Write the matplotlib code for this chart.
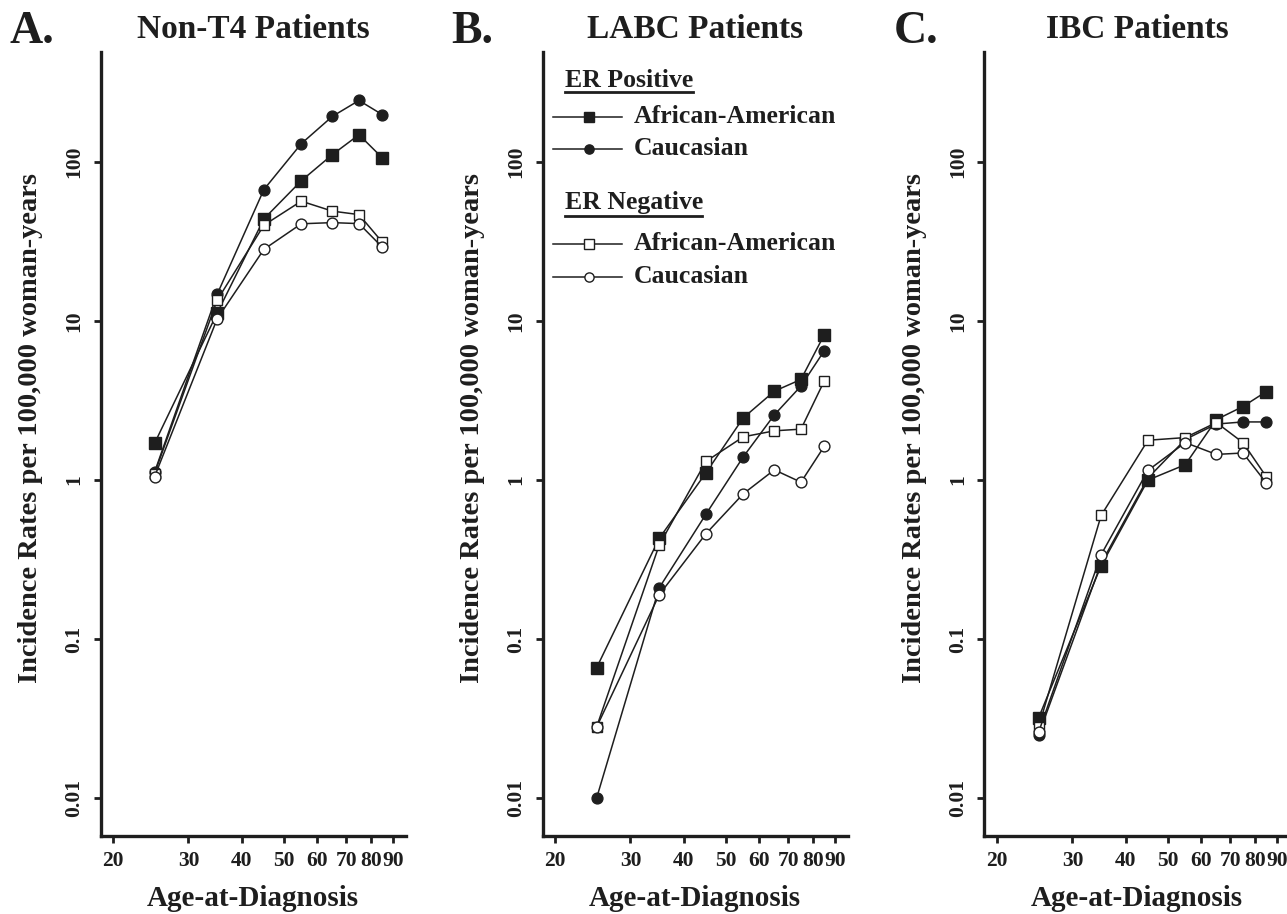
"""
Incidence rates by age-at-diagnosis, ER status and race (Non-T4 / LABC / IBC).
"""

import matplotlib
matplotlib.use("Agg")
import matplotlib.pyplot as plt
from matplotlib.lines import Line2D
from matplotlib.ticker import FixedLocator, FixedFormatter, NullLocator

plt.rcParams['font.family'] = ['Liberation Serif', 'DejaVu Serif']
plt.rcParams['font.weight'] = 'bold'

INK = '#1e1e1e'

# ---- data -------------------------------------------------------------
ages = [25, 35, 45, 55, 65, 75, 85]

nont4_aa_pos = [1.7, 11.2, 43.8, 76, 111, 148, 106]
nont4_ca_pos = [1.12, 14.7, 67, 130, 193, 243, 198]
nont4_aa_neg = [1.1, 13.5, 40, 56.6, 49, 46.6, 31.3]
nont4_ca_neg = [1.05, 10.3, 28.2, 40.8, 41.5, 40.9, 29.1]

labc_aa_pos = [0.066, 0.43, 1.11, 2.46, 3.62, 4.29, 8.2]
labc_ca_pos = [0.01, 0.21, 0.61, 1.4, 2.57, 3.9, 6.5]
labc_aa_neg = [0.028, 0.39, 1.31, 1.87, 2.04, 2.09, 4.2]
labc_ca_neg = [0.028, 0.19, 0.46, 0.82, 1.16, 0.97, 1.63]

ibc_aa_pos = [0.032, 0.29, 1.0, 1.25, 2.4, 2.9, 3.6]
ibc_ca_pos = [0.025, 0.30, 1.03, 1.8, 2.25, 2.32, 2.32]
ibc_aa_neg = [0.028, 0.6, 1.78, 1.85, 2.3, 1.72, 1.05]
ibc_ca_neg = [0.026, 0.34, 1.15, 1.72, 1.45, 1.48, 0.96]

panel_letters = ['A.', 'B.', 'C.']
panel_titles = ['Non-T4 Patients', 'LABC Patients', 'IBC Patients']
panel_data = [
    (nont4_aa_pos, nont4_ca_pos, nont4_aa_neg, nont4_ca_neg),
    (labc_aa_pos, labc_ca_pos, labc_aa_neg, labc_ca_neg),
    (ibc_aa_pos, ibc_ca_pos, ibc_aa_neg, ibc_ca_neg),
]

x_ticks = [20, 30, 40, 50, 60, 70, 80, 90]
y_ticks = [0.01, 0.1, 1, 10, 100]
y_tick_labels = ['0.01', '0.1', '1', '10', '100']

# marker styles: (marker, facecolor, size)
series_styles = [
    ('s', INK, 8.5),      # ER+ African-American
    ('o', INK, 7.8),      # ER+ Caucasian
    ('s', 'white', 7.8),  # ER- African-American
    ('o', 'white', 7.8),  # ER- Caucasian
]

# ---- figure -----------------------------------------------------------
W, H = 1287, 914
fig = plt.figure(figsize=(W / 100, H / 100), dpi=100)


def px_to_fig(x, y):
    return x / W, 1 - y / H


ax_left_px = [100.5, 542.5, 984.5]
ax_top_px, ax_bot_px, ax_w_px = 52, 836, 305

axes = []
for i, left in enumerate(ax_left_px):
    ax = fig.add_axes([left / W, 1 - ax_bot_px / H, ax_w_px / W,
                       (ax_bot_px - ax_top_px) / H])
    axes.append(ax)

    for data, (mk, fc, ms) in zip(panel_data[i], series_styles):
        ax.plot(ages, data, color=INK, linewidth=1.1, marker=mk,
                markersize=ms, markerfacecolor=fc, markeredgecolor=INK,
                markeredgewidth=1.0)

    ax.set_xscale('log')
    ax.set_yscale('log')
    ax.set_xlim(18.7, 96.3)
    ax.set_ylim(0.0058, 490)

    ax.xaxis.set_major_locator(FixedLocator(x_ticks))
    ax.xaxis.set_major_formatter(FixedFormatter([str(t) for t in x_ticks]))
    ax.xaxis.set_minor_locator(NullLocator())
    ax.yaxis.set_major_locator(FixedLocator(y_ticks))
    ax.yaxis.set_major_formatter(FixedFormatter(y_tick_labels))
    ax.yaxis.set_minor_locator(NullLocator())

    for side in ('top', 'right'):
        ax.spines[side].set_visible(False)
    for side in ('left', 'bottom'):
        ax.spines[side].set_linewidth(2.4)
        ax.spines[side].set_color(INK)

    ax.tick_params(axis='both', direction='out', length=5, width=2,
                   color=INK, labelcolor=INK, labelsize=15.5)
    ax.tick_params(axis='x', pad=6)
    ax.tick_params(axis='y', pad=7)
    for lab in ax.get_yticklabels():
        lab.set_rotation(90)
        lab.set_va('center')
        lab.set_fontweight('bold')
    for lab in ax.get_xticklabels():
        lab.set_fontweight('bold')

    # panel letter, title, axis labels
    fig.text(*px_to_fig(left - 91, 43), panel_letters[i], fontsize=33,
             fontweight='bold', color=INK, ha='left', va='baseline')
    fig.text(*px_to_fig(left + ax_w_px / 2, 38), panel_titles[i],
             fontsize=24, fontweight='bold', color=INK, ha='center',
             va='baseline')
    fig.text(*px_to_fig(left + ax_w_px / 2, 906), 'Age-at-Diagnosis',
             fontsize=21, fontweight='bold', color=INK, ha='center',
             va='baseline')
    fig.text(*px_to_fig(left - 70, 428),
             'Incidence Rates per 100,000 woman-years', fontsize=20.5,
             fontweight='bold', color=INK, ha='center', va='center',
             rotation=90)

# ---- legend in panel B ------------------------------------------------
axb = axes[1]
bl = ax_left_px[1]


def ax_coords(x, y):
    return (x - bl) / ax_w_px, (ax_bot_px - y) / (ax_bot_px - ax_top_px)


headings = [('ER Positive', 87, 92, 693), ('ER Negative', 209, 216, 702)]
for text, base_y, line_y, line_end in headings:
    axb.text(*ax_coords(565, base_y), text, transform=axb.transAxes,
             fontsize=18.5, fontweight='bold', color=INK, ha='left',
             va='baseline')
    axb.add_line(Line2D([ax_coords(565, line_y)[0], ax_coords(line_end, line_y)[0]],
                        [ax_coords(565, line_y)[1]] * 2,
                        transform=axb.transAxes, color=INK, linewidth=2))

entries = [('African-American', 117), ('Caucasian', 149),
           ('African-American', 244), ('Caucasian', 277)]
for (label, yy), (mk, fc, ms) in zip(entries, series_styles):
    x0, y0 = ax_coords(553, yy)
    x1, _ = ax_coords(622, yy)
    xm, _ = ax_coords(589, yy)
    axb.add_line(Line2D([x0, x1], [y0, y0], transform=axb.transAxes,
                        color=INK, linewidth=1.1))
    axb.add_line(Line2D([xm], [y0], transform=axb.transAxes, marker=mk,
                        markersize=ms * 0.85, markerfacecolor=fc,
                        markeredgecolor=INK, markeredgewidth=1.0,
                        linestyle='none'))
    axb.text(*ax_coords(634, yy), label, transform=axb.transAxes,
             fontsize=18.5, fontweight='bold', color=INK, ha='left',
             va='center')

fig.savefig('out.png', dpi=100, facecolor='white')
